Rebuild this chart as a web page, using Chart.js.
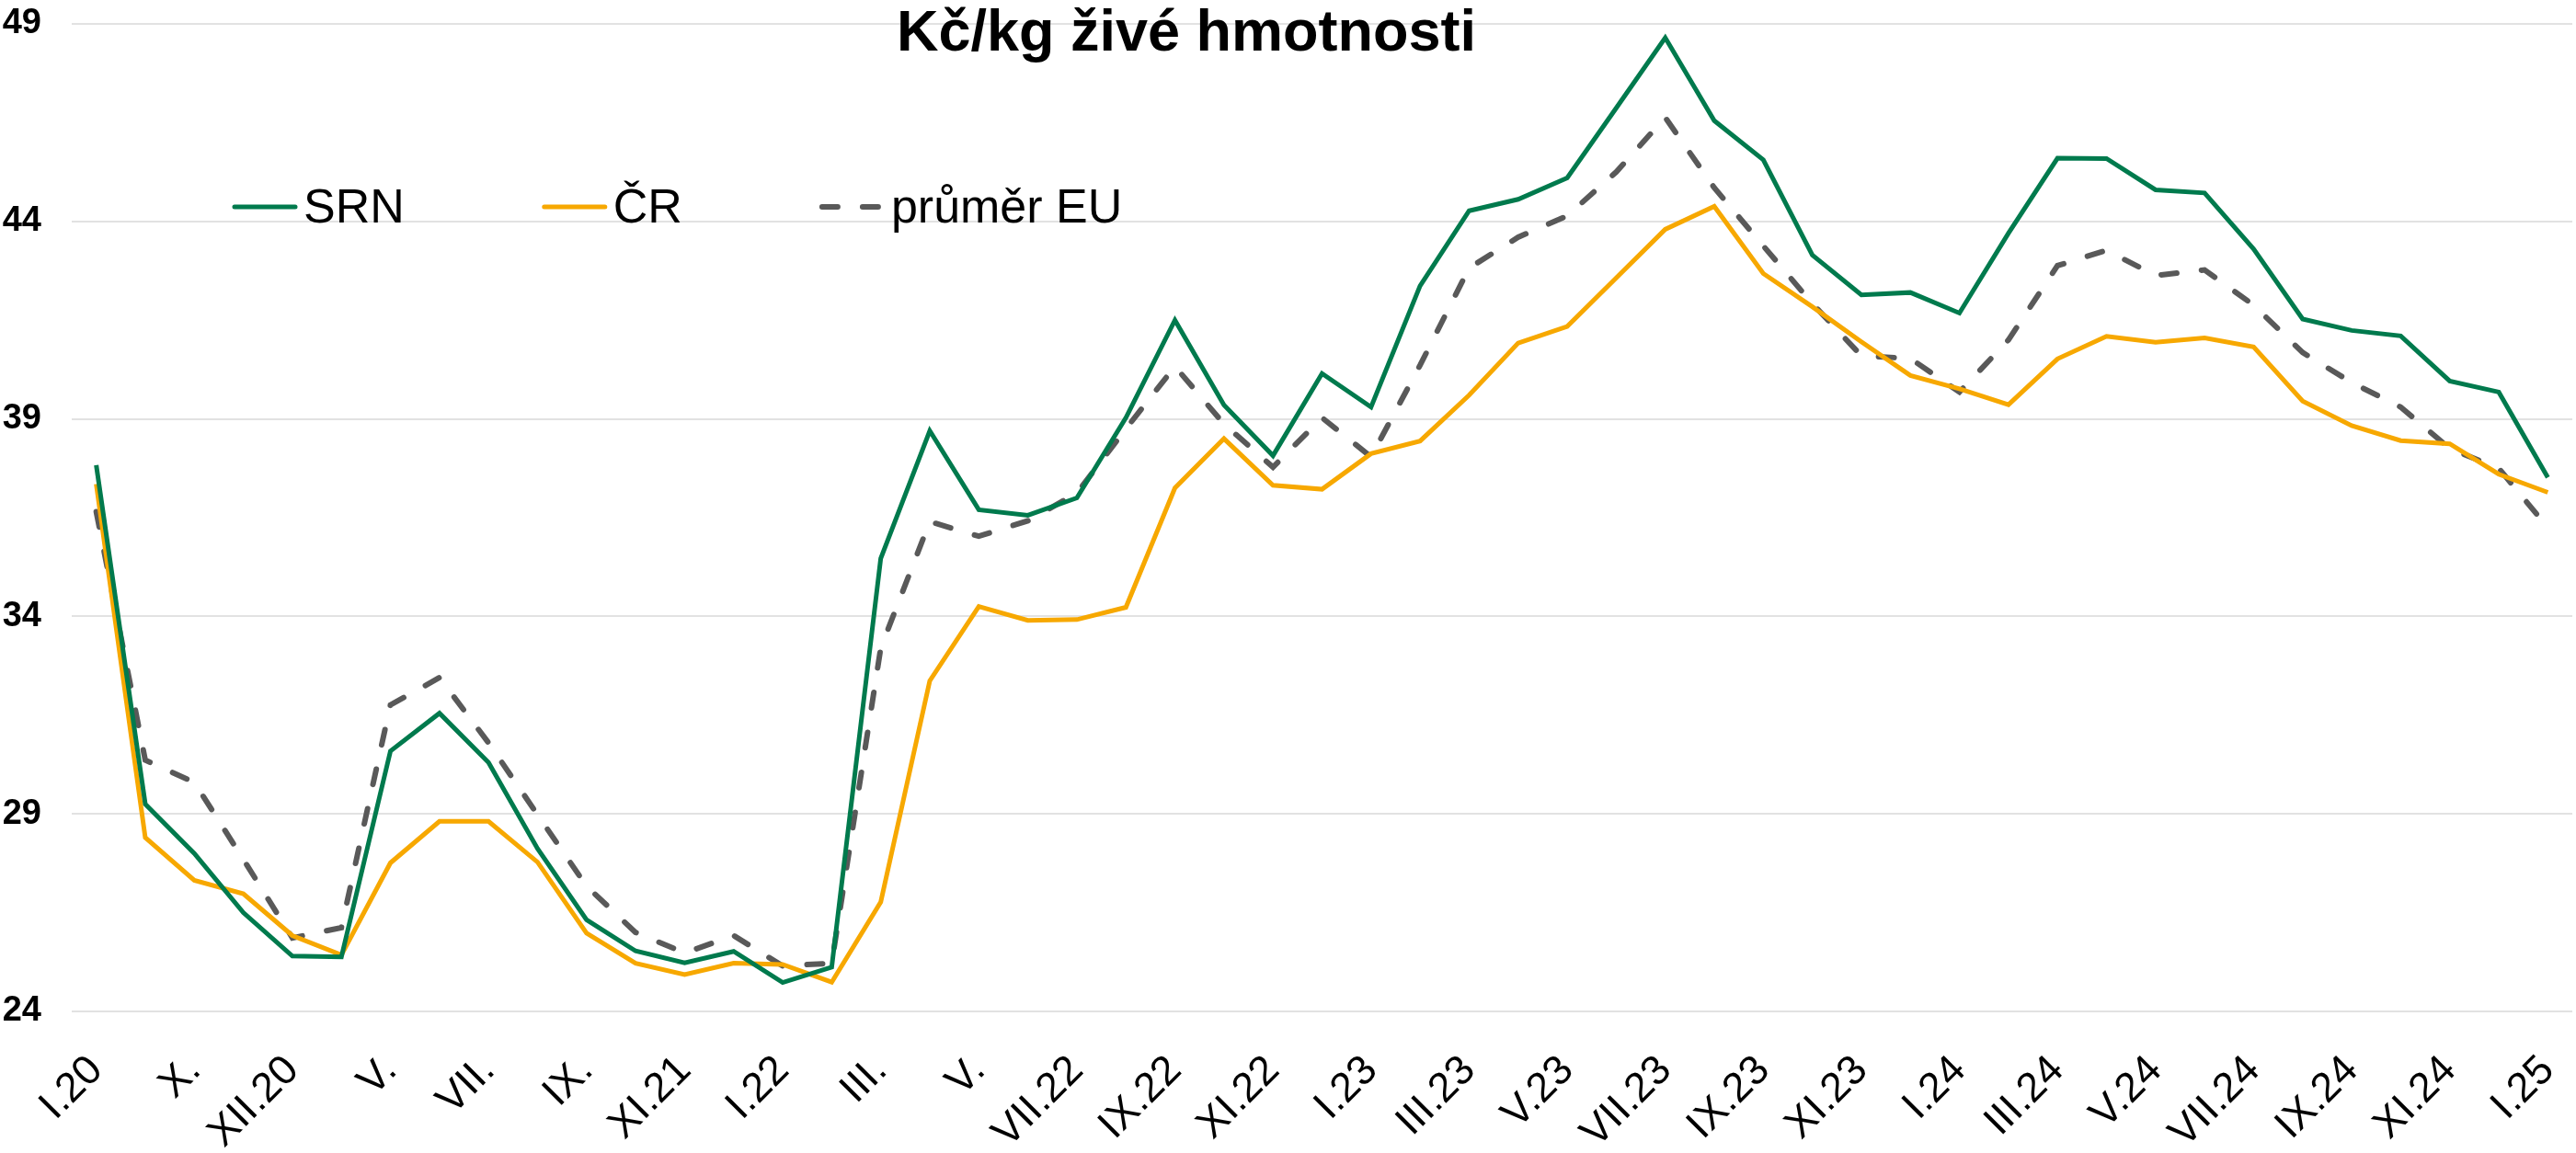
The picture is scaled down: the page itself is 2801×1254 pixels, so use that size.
<!DOCTYPE html>
<html lang="cs">
<head>
<meta charset="utf-8">
<title>Kč/kg živé hmotnosti</title>
<script src="https://cdn.jsdelivr.net/npm/chart.js@4.4.1/dist/chart.umd.min.js"></script>
<style>
  html, body { margin: 0; padding: 0; background: #fff; }
  #obal { width: 2801px; height: 1254px; }
</style>
</head>
<body>
<div id="obal"><canvas id="graf" width="2801" height="1254"></canvas></div>
<script>
// období (popisek se ukazuje u každého druhého bodu)
const obdobi = [
  'I.20', 'IX.', 'X.', 'XI.', 'XII.20', 'IV.', 'V.', 'VI.', 'VII.', 'VIII.',
  'IX.', 'X.', 'XI.21', 'XII.', 'I.22', 'II.', 'III.', 'IV.', 'V.', 'VI.',
  'VII.22', 'VIII.', 'IX.22', 'X.', 'XI.22', 'XII.', 'I.23', 'II.', 'III.23', 'IV.',
  'V.23', 'VI.', 'VII.23', 'VIII.', 'IX.23', 'X.', 'XI.23', 'XII.', 'I.24', 'II.',
  'III.24', 'IV.', 'V.24', 'VI.', 'VII.24', 'VIII.', 'IX.24', 'X.', 'XI.24', 'XII.',
  'I.25'
];

// Kč/kg živé hmotnosti
const srn = [
  37.83, 29.25, 28.0, 26.5, 25.4, 25.38, 30.59, 31.55, 30.3, 28.12,
  26.32, 25.53, 25.23, 25.52, 24.73, 25.12, 35.47, 38.7, 36.7, 36.56,
  37.0, 39.03, 41.5, 39.35, 38.07, 40.15, 39.3, 42.37, 44.27, 44.56,
  45.1, 46.87, 48.65, 46.55, 45.56, 43.15, 42.14, 42.2, 41.68, 43.7,
  45.6, 45.59, 44.8, 44.72, 43.3, 41.53, 41.24, 41.1, 39.96, 39.68,
  37.52
];
const cr = [
  37.35, 28.4, 27.32, 26.98, 25.92, 25.43, 27.76, 28.81, 28.81, 27.78,
  25.98, 25.22, 24.93, 25.22, 25.19, 24.74, 26.77, 32.37, 34.25, 33.9,
  33.92, 34.23, 37.25, 38.5, 37.32, 37.22, 38.12, 38.44, 39.6, 40.92,
  41.34, 42.57, 43.8, 44.38, 42.68, 41.84, 40.95, 40.1, 39.76, 39.36,
  40.52, 41.09, 40.94, 41.05, 40.82, 39.45, 38.83, 38.45, 38.37, 37.6,
  37.14
];
const prumerEU = [
  36.65, 30.36, 29.8, 27.85, 25.86, 26.12, 31.76, 32.45, 30.8, 28.98,
  27.17, 26.0, 25.48, 25.92, 25.15, 25.22, 33.2, 36.4, 36.03, 36.42,
  37.12, 38.75, 40.33, 38.87, 37.78, 39.03, 38.04, 40.36, 42.82, 43.6,
  44.14, 45.25, 46.63, 44.85, 43.38, 41.92, 40.6, 40.53, 39.68, 41.0,
  42.88, 43.27, 42.63, 42.77, 41.88, 40.68, 39.92, 39.3, 38.25, 37.75,
  36.25
];

const osaY = [24, 29, 34, 39, 44, 49];
const titulek = 'Kč/kg živé hmotnosti';
const pismo = '"Liberation Sans", Arial, sans-serif';

// titulek a legenda jsou v grafu přes plochu, kreslí se zvlášť
const popisky = {
  id: 'popisky',
  afterDraw(chart) {
    const ctx = chart.ctx;
    ctx.save();
    ctx.fillStyle = '#000';
    ctx.font = 'bold 63px ' + pismo;
    ctx.textAlign = 'center';
    ctx.textBaseline = 'alphabetic';
    ctx.fillText(titulek, 1290, 55);

    ctx.font = '52px ' + pismo;
    ctx.textAlign = 'left';
    let x = 252;
    const y = 225;
    chart.data.datasets.forEach(ds => {
      ctx.beginPath();
      ctx.strokeStyle = ds.borderColor;
      ctx.lineWidth = ds.borderWidth;
      ctx.lineCap = 'round';
      ctx.setLineDash(ds.borderDash || []);
      ctx.moveTo(x + 3, y);
      ctx.lineTo(x + 69, y);
      ctx.stroke();
      ctx.setLineDash([]);
      ctx.fillText(ds.label, x + 78, y + 17);
      x += 78 + ctx.measureText(ds.label).width + 149;
    });
    ctx.restore();
  }
};

const ctx = document.getElementById('graf').getContext('2d');
const graf = new Chart(ctx, {
  type: 'line',
  data: {
    labels: obdobi,
    datasets: [
      {
        label: 'SRN',
        data: srn,
        borderColor: '#007A4D',
        borderWidth: 5,
        pointRadius: 0,
        tension: 0
      },
      {
        label: 'ČR',
        data: cr,
        borderColor: '#F7A800',
        borderWidth: 5,
        pointRadius: 0,
        tension: 0
      },
      {
        label: 'průměr EU',
        data: prumerEU,
        borderColor: '#595959',
        borderWidth: 6,
        borderDash: [17, 27],
        borderCapStyle: 'round',
        pointRadius: 0,
        tension: 0
      }
    ]
  },
  options: {
    responsive: false,
    animation: false,
    devicePixelRatio: 1,
    layout: { padding: { top: 26, right: 4, bottom: 0, left: 0 } },
    plugins: {
      legend: { display: false },
      title: { display: false },
      tooltip: { enabled: false }
    },
    scales: {
      x: {
        offset: true,
        grid: { display: false, drawTicks: false },
        border: { display: false },
        afterFit: scale => {
          scale.height = 154;
          scale.paddingLeft = 0;
          scale.paddingRight = 0;
        },
        ticks: {
          autoSkip: false,
          minRotation: 45,
          maxRotation: 45,
          padding: 38,
          color: '#000',
          font: { family: pismo, size: 45 },
          callback: function (val, i) {
            return i % 2 === 0 ? this.getLabelForValue(val) : '';
          }
        }
      },
      y: {
        min: osaY[0],
        max: osaY[osaY.length - 1],
        grid: { color: '#e2e2e2', lineWidth: 2, drawTicks: false },
        border: { display: false },
        afterFit: scale => {
          scale.width = 78;
          scale.paddingTop = 0;
          scale.paddingBottom = 0;
        },
        afterBuildTicks: scale => {
          scale.ticks = osaY.map(v => ({ value: v }));
        },
        ticks: {
          padding: 33,
          color: '#000',
          font: { family: pismo, size: 38, weight: 'bold' }
        }
      }
    }
  },
  plugins: [popisky]
});
</script>
</body>
</html>
